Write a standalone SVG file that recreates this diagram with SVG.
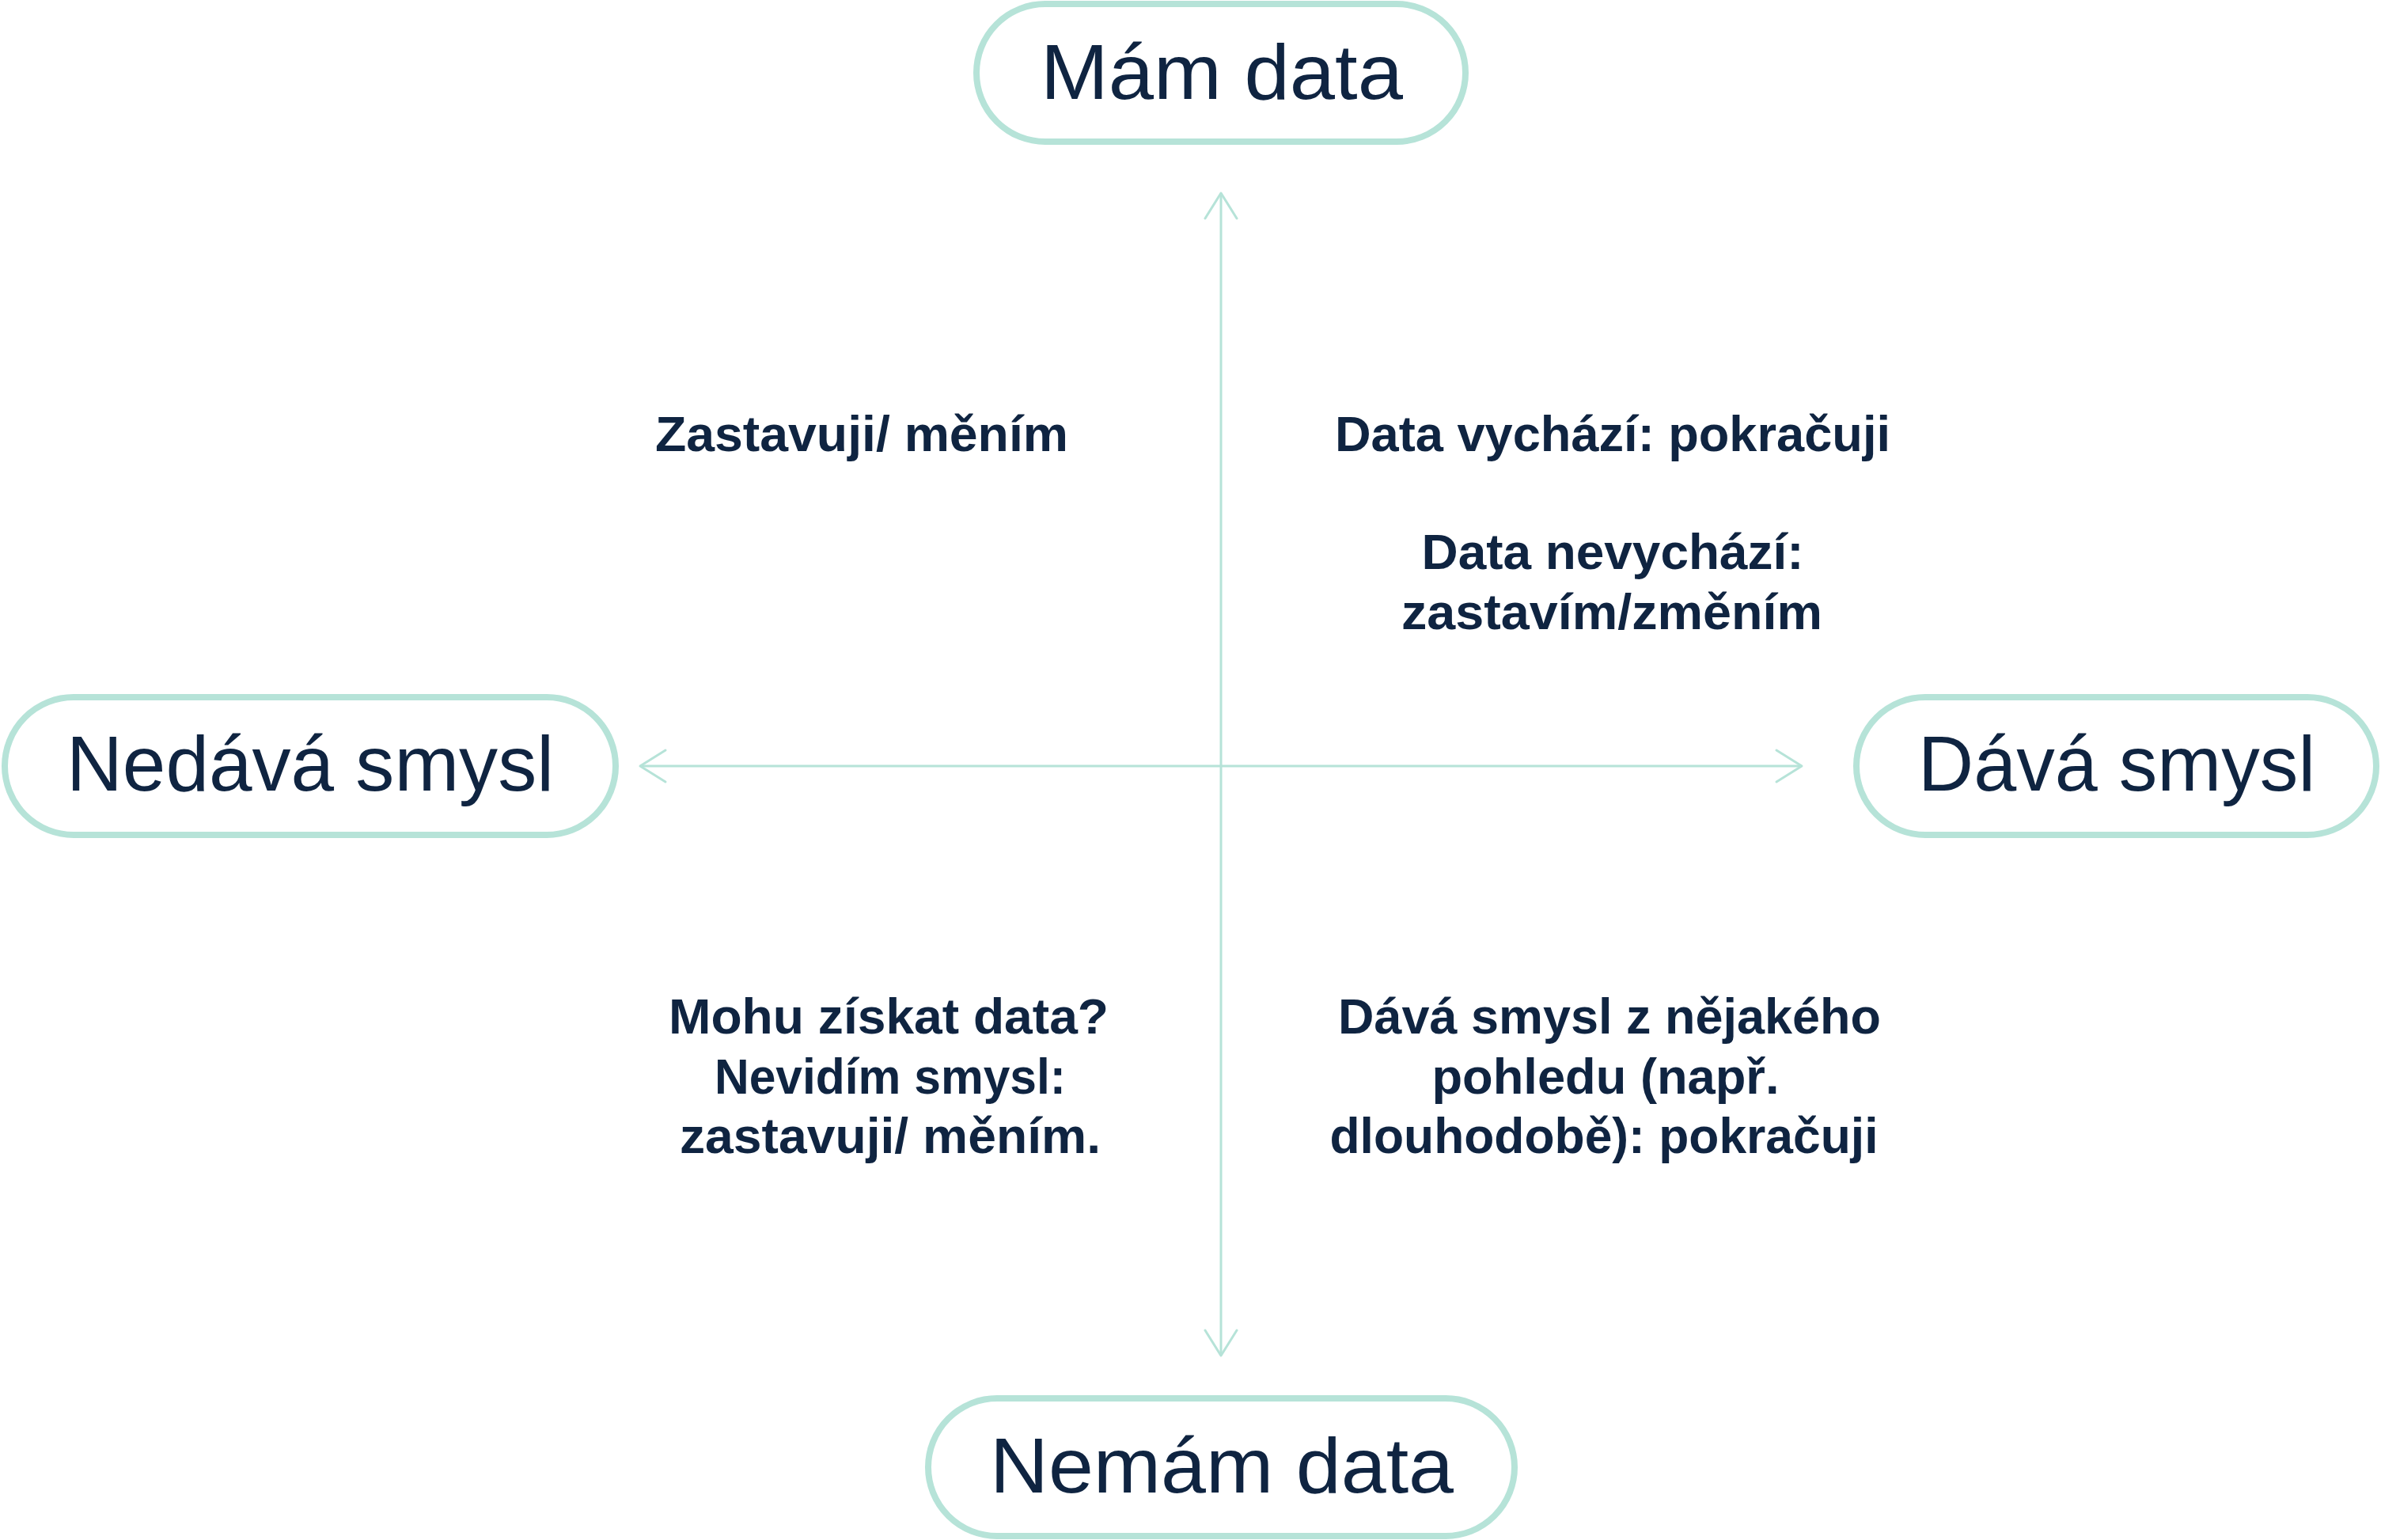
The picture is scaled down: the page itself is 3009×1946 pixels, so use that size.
<svg xmlns="http://www.w3.org/2000/svg" width="3009" height="1946" viewBox="0 0 3009 1946">
<style>
.box{fill:#ffffff;stroke:#b6e3d8;stroke-width:8}
.big{font-family:"Liberation Sans",Arial,sans-serif;font-size:98px;fill:#0f2441;text-anchor:middle}
.q{font-family:"Liberation Sans",Arial,sans-serif;font-weight:bold;font-size:63px;fill:#0f2441;text-anchor:middle}
.axis{stroke:#b6e3d8;stroke-width:3;fill:none}
</style>
<defs>
<marker id="arr" viewBox="-36 -24 40 48" refX="0" refY="0" markerWidth="40" markerHeight="48" markerUnits="userSpaceOnUse" orient="auto-start-reverse">
<path d="M-32,-20 L0,0 L-32,20" fill="none" stroke="#b6e3d8" stroke-width="3" stroke-linecap="round" stroke-linejoin="round"/>
</marker>
</defs>
<rect width="3009" height="1946" fill="#ffffff"/>
<g id="connectors">
<line class="axis" x1="1543" y1="244" x2="1543" y2="1713" marker-start="url(#arr)" marker-end="url(#arr)"/>
<line class="axis" x1="809" y1="968" x2="2277" y2="968" marker-start="url(#arr)" marker-end="url(#arr)"/>
</g>
<g id="node-mam-data">
<rect class="box" x="1234" y="5" width="618" height="174" rx="87" ry="87"/>
<text class="big" x="1544" y="125" textLength="458" lengthAdjust="spacingAndGlyphs">Mám data</text>
</g>
<g id="node-nedava-smysl">
<rect class="box" x="6" y="881" width="772" height="174" rx="87" ry="87"/>
<text class="big" x="392" y="999" textLength="616" lengthAdjust="spacingAndGlyphs">Nedává smysl</text>
</g>
<g id="node-dava-smysl">
<rect class="box" x="2346" y="881" width="657" height="174" rx="87" ry="87"/>
<text class="big" x="2675" y="999" textLength="502" lengthAdjust="spacingAndGlyphs">Dává smysl</text>
</g>
<g id="node-nemam-data">
<rect class="box" x="1173" y="1767" width="741" height="174" rx="87" ry="87"/>
<text class="big" x="1544" y="1886" textLength="586" lengthAdjust="spacingAndGlyphs">Nemám data</text>
</g>
<g id="quadrant-top-left">
<text class="q" x="1089" y="570" textLength="522" lengthAdjust="spacingAndGlyphs">Zastavuji/ měním</text>
</g>
<g id="quadrant-top-right">
<text class="q" x="2038" y="570" textLength="702" lengthAdjust="spacingAndGlyphs">Data vychází: pokračuji</text>
<text class="q" x="2038" y="719" textLength="483" lengthAdjust="spacingAndGlyphs">Data nevychází:</text>
<text class="q" x="2037" y="795" textLength="532" lengthAdjust="spacingAndGlyphs">zastavím/změním</text>
</g>
<g id="quadrant-bottom-left">
<text class="q" x="1123" y="1306" textLength="556" lengthAdjust="spacingAndGlyphs">Mohu získat data?</text>
<text class="q" x="1125" y="1382" textLength="444" lengthAdjust="spacingAndGlyphs">Nevidím smysl:</text>
<text class="q" x="1125" y="1457" textLength="532" lengthAdjust="spacingAndGlyphs">zastavuji/ měním.</text>
</g>
<g id="quadrant-bottom-right">
<text class="q" x="2034" y="1306" textLength="686" lengthAdjust="spacingAndGlyphs">Dává smysl z nějakého</text>
<text class="q" x="2029" y="1382" textLength="439" lengthAdjust="spacingAndGlyphs">pohledu (např.</text>
<text class="q" x="2027" y="1457" textLength="693" lengthAdjust="spacingAndGlyphs">dlouhodobě): pokračuji</text>
</g>
</svg>
